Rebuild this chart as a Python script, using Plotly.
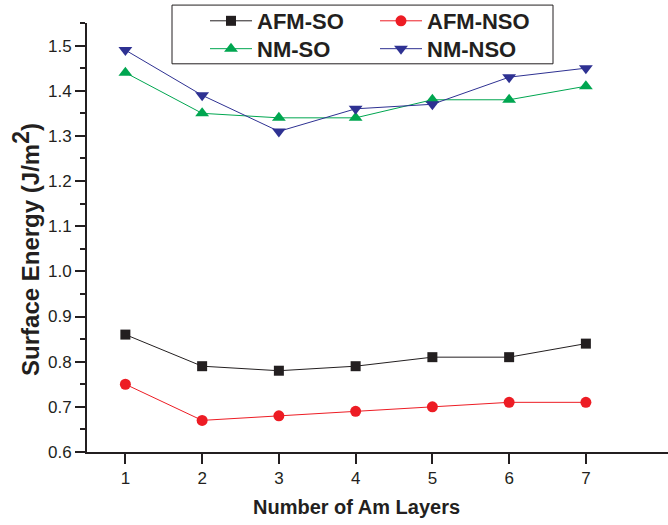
import plotly.graph_objects as go

layers = [1, 2, 3, 4, 5, 6, 7]
afm_so = [0.86, 0.79, 0.78, 0.79, 0.81, 0.81, 0.84]
afm_nso = [0.75, 0.67, 0.68, 0.69, 0.70, 0.71, 0.71]
nm_so = [1.44, 1.35, 1.34, 1.34, 1.38, 1.38, 1.41]
nm_nso = [1.49, 1.39, 1.31, 1.36, 1.37, 1.43, 1.45]

x_title = "Number of Am Layers"
y_title = "Surface Energy (J/m<sup><span style='font-size:23px'>2</span></sup>)"

series = [
    ("AFM-SO", afm_so, "#231f20", "square", 10, "legend"),
    ("AFM-NSO", afm_nso, "#ed1c24", "circle", 11, "legend2"),
    ("NM-SO", nm_so, "#00a650", "triangle-up", 12, "legend3"),
    ("NM-NSO", nm_nso, "#2e3192", "triangle-down", 12, "legend4"),
]

fig = go.Figure()
for name, vals, color, sym, sz, lg in series:
    fig.add_trace(go.Scatter(
        x=layers, y=vals, name=name, mode="lines+markers", legend=lg,
        line=dict(color=color, width=1),
        marker=dict(symbol=sym, size=sz, color=color),
    ))

axis_col = "#231f20"
W, H = 668, 525
ml, mr, mt, mb = 87, 0, 21, 73
pw, ph = W - ml - mr, H - mt - mb


def px_x(px):
    return (px - ml) / pw


def px_y(py):
    return (H - mb - py) / ph


leg_font = dict(size=22, family="Liberation Sans, Arial, sans-serif", weight="bold", color=axis_col)
common_leg = dict(
    orientation="v", yanchor="middle", xanchor="left",
    borderwidth=0, bgcolor="rgba(0,0,0,0)", font=leg_font,
    itemwidth=42, tracegroupgap=0,
)
fig.update_layout(
    width=W, height=H,
    margin=dict(l=ml, r=mr, t=mt, b=mb),
    paper_bgcolor="white", plot_bgcolor="white",
    font=dict(family="Liberation Sans, Arial, sans-serif", color=axis_col),
    showlegend=True,
    legend=dict(x=px_x(205), y=px_y(19), **common_leg),
    legend2=dict(x=px_x(375), y=px_y(19), **common_leg),
    legend3=dict(x=px_x(205), y=px_y(47), **common_leg),
    legend4=dict(x=px_x(375), y=px_y(47), **common_leg),
    shapes=[dict(type="rect", xref="paper", yref="paper",
                 x0=px_x(172), x1=px_x(553), y0=px_y(62), y1=px_y(3),
                 line=dict(color=axis_col, width=1), fillcolor="white", layer="above")],
    annotations=[
        dict(text=x_title, xref="paper", yref="paper", x=px_x(356.5), y=px_y(507),
             xanchor="center", yanchor="middle", showarrow=False,
             font=dict(size=20, weight="bold", color=axis_col)),
        dict(text=y_title, xref="paper", yref="paper", x=px_x(26), y=px_y(249),
             xanchor="center", yanchor="middle", showarrow=False, textangle=-90,
             font=dict(size=24, weight="bold", color=axis_col)),
    ],
)
fig.update_xaxes(
    range=[0.5, 8.07], tickmode="array", tickvals=layers,
    showline=True, linecolor=axis_col, linewidth=2,
    ticks="outside", ticklen=10, tickwidth=1.5, tickcolor=axis_col,
    showgrid=False, zeroline=False,
    tickfont=dict(size=17),
)
fig.update_yaxes(
    range=[0.6, 1.55], tickmode="linear", tick0=0.6, dtick=0.1, tickformat=".1f",
    showline=True, linecolor=axis_col, linewidth=2,
    ticks="outside", ticklen=10, tickwidth=1.5, tickcolor=axis_col,
    minor=dict(ticks="outside", ticklen=5, tickwidth=1.5, tickcolor=axis_col, dtick=0.05, tick0=0.6),
    showgrid=False, zeroline=False,
    tickfont=dict(size=17),
)

fig.write_html("out.html")
